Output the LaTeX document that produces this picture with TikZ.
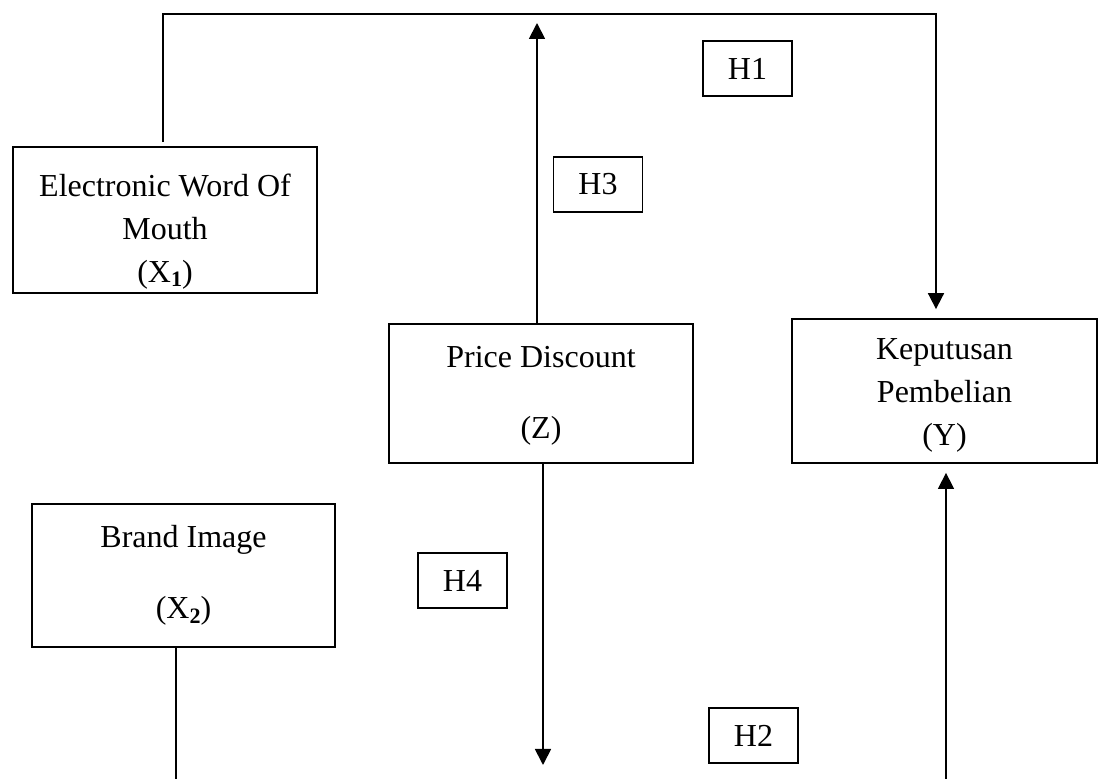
\documentclass[tikz,border=0pt]{standalone}
\usepackage{fontspec}
\setmainfont{Liberation Serif}
\usetikzlibrary{arrows.meta}
\newcommand{\subn}[1]{\raisebox{-0.3ex}{\fontsize{11}{11}\selectfont\bfseries #1}}
\begin{document}
\begin{tikzpicture}[x=0.5pt,y=-0.5pt,
  varbox/.style={draw,line width=0.9pt,align=center,inner sep=0pt,
    font=\fontsize{16}{21.5}\selectfont},
  hbox/.style={draw,line width=0.8pt,minimum width=44.5pt,minimum height=27.5pt,
    inner sep=0pt,font=\fontsize{16}{19}\selectfont},
  conn/.style={line width=0.9pt},
  arr/.style={line width=0.9pt,-{Triangle[width=8pt,length=8pt]}}]
\useasboundingbox (0,0) rectangle (1104,779);

\node[varbox,minimum width=152pt,minimum height=73pt] (ewom) at (165,220)
  {\rule{0pt}{23pt}Electronic Word Of\\Mouth\\(X\subn{1})};
\node[varbox,minimum width=152pt,minimum height=69.5pt] (z) at (541,393.5)
  {\rule{0pt}{13pt}Price Discount\\[14pt](Z)};
\node[varbox,minimum width=152.5pt,minimum height=72pt] (y) at (944.5,391)
  {\rule{0pt}{15pt}Keputusan\\Pembelian\\(Y)};
\node[varbox,minimum width=151.5pt,minimum height=71.5pt] (brand) at (183.5,575.5)
  {Brand Image\\[14pt](X\subn{2})};

\node[hbox] (h1) at (747.5,68.5) {H1};
\node[hbox] (h3) at (598,184.5) {H3};
\node[hbox] (h4) at (462.5,580.5) {H4};
\node[hbox] (h2) at (753.5,735.5) {H2};

\coordinate (tl) at (163,14);
\coordinate (tr) at (936,14);
\coordinate (ztop) at (537,23);
\coordinate (zbot) at (543,765);
\coordinate (bb) at (176,779);
\coordinate (yb) at (946,779);

% H1: EWOM -> Keputusan
\draw[arr,shorten >=4.5pt] ([yshift=2pt]ewom.north -| tl) -- (tl) -- (tr) -- (tr |- y.north);
% H3: Price Discount -> up
\draw[arr] (z.north -| ztop) -- (ztop);
% H4: Price Discount -> down
\draw[arr] (z.south -| zbot) -- (zbot);
% Brand Image -> down
\draw[conn] (brand.south -| bb) -- (bb);
% H2: up into Keputusan
\draw[line width=0.7pt,-{Triangle[width=8pt,length=8pt]},shorten >=4.5pt] (yb) -- (yb |- y.south);
\end{tikzpicture}
\end{document}
